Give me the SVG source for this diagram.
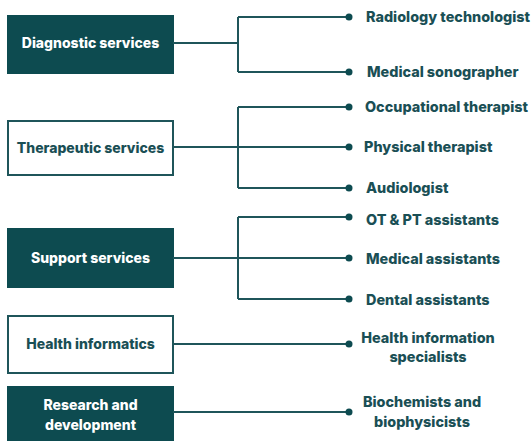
<svg xmlns="http://www.w3.org/2000/svg" width="531" height="441" viewBox="0 0 531 441">
<style>
.dark{fill:#0d4b50;stroke:#0d4b50;stroke-width:2}
.light{fill:#ffffff;stroke:#1f555a;stroke-width:2}
.t{font-family:Inter,"Liberation Sans",sans-serif;font-weight:800;font-size:14px}
.r{font-size:14.4px}
.tw{fill:#ffffff}
.td{fill:#1a4f55}
.c{fill:none;stroke:#1f555a;stroke-width:2}
.dot{fill:#0d4b50}
</style>
<rect width="531" height="441" fill="#ffffff"/>
<g id="n-diagnostic"><rect class="dark" x="8" y="16" width="165" height="57"/><text class="t tw" x="90.5" y="48" text-anchor="middle">Diagnostic services</text></g>
<g id="n-therapeutic"><rect class="light" x="8" y="121" width="165" height="54"/><text class="t td" x="90.5" y="152.5" text-anchor="middle">Therapeutic services</text></g>
<g id="n-support"><rect class="dark" x="8" y="229" width="165" height="58"/><text class="t tw" x="90.5" y="262.5" text-anchor="middle">Support services</text></g>
<g id="n-informatics"><rect class="light" x="8" y="316" width="165" height="57"/><text class="t td" x="90.5" y="349" text-anchor="middle">Health informatics</text></g>
<g id="n-research"><rect class="dark" x="8" y="387" width="165" height="60"/><text class="t tw" x="90.5" y="410" text-anchor="middle">Research and</text><text class="t tw" x="90.5" y="430" text-anchor="middle">development</text></g>
<g id="connectors">
<path class="c" d="M173 43H238M238 17V72M238 17H349M238 72H349"/>
<path class="c" d="M173 147H349M238 107V188M238 107H349M238 188H349"/>
<path class="c" d="M173 258H349M238 217V299M238 217H349M238 299H349"/>
<path class="c" d="M173 344H349"/>
<path class="c" d="M173 412H349"/>
<circle class="dot" cx="349" cy="17" r="3.5"/>
<circle class="dot" cx="349" cy="72" r="3.5"/>
<circle class="dot" cx="349" cy="107" r="3.5"/>
<circle class="dot" cx="349" cy="147" r="3.5"/>
<circle class="dot" cx="349" cy="188" r="3.5"/>
<circle class="dot" cx="349" cy="217" r="3.5"/>
<circle class="dot" cx="349" cy="258" r="3.5"/>
<circle class="dot" cx="349" cy="299" r="3.5"/>
<circle class="dot" cx="349" cy="344" r="3.5"/>
<circle class="dot" cx="349" cy="412" r="3.5"/>
</g>
<g id="labels">
<text class="t r td" x="366" y="22">Radiology technologist</text>
<text class="t r td" x="367" y="77">Medical sonographer</text>
<text class="t r td" x="365" y="111.5">Occupational therapist</text>
<text class="t r td" x="364" y="151.5">Physical therapist</text>
<text class="t r td" x="366" y="192.5">Audiologist</text>
<text class="t r td" x="366" y="225">OT &amp; PT assistants</text>
<text class="t r td" x="366" y="264">Medical assistants</text>
<text class="t r td" x="366" y="305">Dental assistants</text>
<text class="t r td" x="428" y="343" text-anchor="middle">Health information</text>
<text class="t r td" x="428" y="362" text-anchor="middle">specialists</text>
<text class="t r td" x="422" y="407" text-anchor="middle">Biochemists and</text>
<text class="t r td" x="422" y="427" text-anchor="middle">biophysicists</text>
</g>
</svg>
